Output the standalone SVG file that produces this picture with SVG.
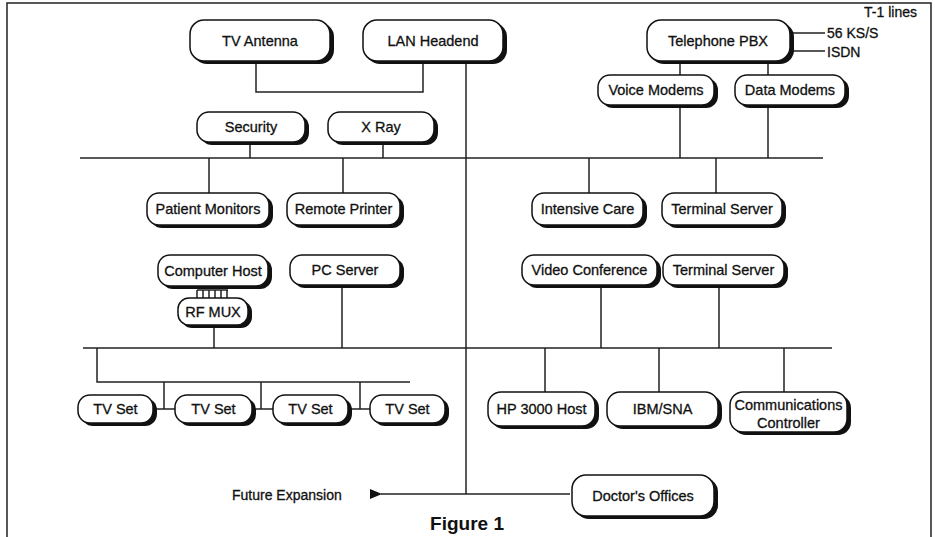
<svg xmlns="http://www.w3.org/2000/svg" width="935" height="537" viewBox="0 0 935 537">
<style>
  .sh { fill: #111; }
  .bx { fill: #fff; stroke: #111; stroke-width: 1.5; }
  .t { font-family: "Liberation Sans", Arial, sans-serif; font-size: 14.5px; fill: #111; stroke: #111; stroke-width: 0.3; text-anchor: middle; }
  .tl { font-family: "Liberation Sans", Arial, sans-serif; font-size: 14px; fill: #111; stroke: #111; stroke-width: 0.3; }
  .ln { fill: none; stroke: #222; stroke-width: 1.5; }
</style>
<defs>
  <marker id="arr" viewBox="0 0 12 10" refX="1" refY="5" markerWidth="13" markerHeight="10" markerUnits="userSpaceOnUse" orient="auto-start-reverse">
    <path d="M12,0 L0,5 L12,10 Z" fill="#111"/>
  </marker>
</defs>
<rect width="935" height="537" fill="#fff"/>
<g id="frame" class="ln">
  <path d="M7,537 V3 H931 V537"/>
</g>
<g id="connectors" class="ln">
  <path d="M256,61 V92 H423 V61"/>
  <path d="M466,61 V494"/>
  <path d="M570,494 H381" marker-end="url(#arr)"/>
  <path d="M80,158 H823"/>
  <path d="M250,142 V158 M383,142 V158"/>
  <path d="M680,61 V75 M680,105 V158 M768,61 V75 M768,105 V158"/>
  <path d="M209,158 V193 M343,158 V193 M589,158 V193 M716,158 V193"/>
  <path d="M793,33 H825 M793,51 H825"/>
  <path d="M197,290 H228 M197,290 V298 M203,290 V298 M209,290 V298 M215,290 V298 M221,290 V298 M227,290 V298"/>
  <path d="M342,285 V348 M214,325 V348 M601,285 V348 M719,285 V348"/>
  <path d="M83,348 H832"/>
  <path d="M97,348 V382 H410"/>
  <path d="M164,382 V409 M261,382 V409 M360,382 V409"/>
  <path d="M153,409 H175 M252,409 H273 M348,409 H370"/>
  <path d="M545,348 V392 M659,348 V392 M784,348 V392"/>
</g>
<g id="tv-antenna"><rect class="sh" x="193" y="23" width="141" height="41" rx="14"/><rect class="bx" x="190" y="20" width="140" height="41" rx="14"/><text class="t" x="260" y="46">TV Antenna</text></g>
<g id="lan-headend"><rect class="sh" x="366" y="23" width="141" height="41" rx="14"/><rect class="bx" x="363" y="20" width="140" height="41" rx="14"/><text class="t" x="433" y="46">LAN Headend</text></g>
<g id="telephone-pbx"><rect class="sh" x="650" y="23" width="144" height="41" rx="14"/><rect class="bx" x="647" y="20" width="143" height="41" rx="14"/><text class="t" x="718" y="46">Telephone PBX</text></g>
<g id="voice-modems"><rect class="sh" x="601" y="78" width="117" height="30" rx="12"/><rect class="bx" x="598" y="75" width="116" height="30" rx="12"/><text class="t" x="656" y="95">Voice Modems</text></g>
<g id="data-modems"><rect class="sh" x="738" y="78" width="111" height="30" rx="12"/><rect class="bx" x="735" y="75" width="110" height="30" rx="12"/><text class="t" x="790" y="95">Data Modems</text></g>
<g id="security"><rect class="sh" x="200" y="115" width="109" height="30" rx="12"/><rect class="bx" x="197" y="112" width="108" height="30" rx="12"/><text class="t" x="251" y="132">Security</text></g>
<g id="x-ray"><rect class="sh" x="331" y="115" width="107" height="30" rx="12"/><rect class="bx" x="328" y="112" width="106" height="30" rx="12"/><text class="t" x="381" y="132">X Ray</text></g>
<g id="patient-monitors"><rect class="sh" x="150" y="196" width="123" height="32" rx="12"/><rect class="bx" x="147" y="193" width="122" height="32" rx="12"/><text class="t" x="208" y="214">Patient Monitors</text></g>
<g id="remote-printer"><rect class="sh" x="290" y="196" width="114" height="32" rx="12"/><rect class="bx" x="287" y="193" width="113" height="32" rx="12"/><text class="t" x="343.5" y="214">Remote Printer</text></g>
<g id="intensive-care"><rect class="sh" x="535" y="196" width="112" height="32" rx="12"/><rect class="bx" x="532" y="193" width="111" height="32" rx="12"/><text class="t" x="587.5" y="214">Intensive Care</text></g>
<g id="terminal-server-1"><rect class="sh" x="665" y="196" width="121" height="32" rx="12"/><rect class="bx" x="662" y="193" width="120" height="32" rx="12"/><text class="t" x="722" y="214">Terminal Server</text></g>
<g id="computer-host"><rect class="sh" x="161" y="258" width="111" height="31" rx="12"/><rect class="bx" x="158" y="255" width="110" height="31" rx="12"/><text class="t" x="213" y="276">Computer Host</text></g>
<g id="pc-server"><rect class="sh" x="293" y="258" width="111" height="30" rx="12"/><rect class="bx" x="290" y="255" width="110" height="30" rx="12"/><text class="t" x="345" y="275">PC Server</text></g>
<g id="rf-mux"><rect class="sh" x="181" y="301" width="71" height="27" rx="11"/><rect class="bx" x="178" y="298" width="70" height="27" rx="11"/><text class="t" x="213" y="317">RF MUX</text></g>
<g id="video-conference"><rect class="sh" x="525" y="258" width="136" height="30" rx="12"/><rect class="bx" x="522" y="255" width="135" height="30" rx="12"/><text class="t" x="589.5" y="275">Video Conference</text></g>
<g id="terminal-server-2"><rect class="sh" x="666" y="258" width="122" height="30" rx="12"/><rect class="bx" x="663" y="255" width="121" height="30" rx="12"/><text class="t" x="723.5" y="275">Terminal Server</text></g>
<g id="tv-set-1"><rect class="sh" x="81" y="398" width="76" height="28" rx="12"/><rect class="bx" x="78" y="395" width="75" height="28" rx="12"/><text class="t" x="115.5" y="414">TV Set</text></g>
<g id="tv-set-2"><rect class="sh" x="178" y="398" width="78" height="28" rx="12"/><rect class="bx" x="175" y="395" width="77" height="28" rx="12"/><text class="t" x="213.5" y="414">TV Set</text></g>
<g id="tv-set-3"><rect class="sh" x="276" y="398" width="76" height="28" rx="12"/><rect class="bx" x="273" y="395" width="75" height="28" rx="12"/><text class="t" x="310.5" y="414">TV Set</text></g>
<g id="tv-set-4"><rect class="sh" x="373" y="398" width="76" height="28" rx="12"/><rect class="bx" x="370" y="395" width="75" height="28" rx="12"/><text class="t" x="407.5" y="414">TV Set</text></g>
<g id="hp-3000-host"><rect class="sh" x="491" y="395" width="108" height="34" rx="13"/><rect class="bx" x="488" y="392" width="107" height="34" rx="13"/><text class="t" x="541.5" y="414">HP 3000 Host</text></g>
<g id="ibm-sna"><rect class="sh" x="610" y="395" width="112" height="34" rx="13"/><rect class="bx" x="607" y="392" width="111" height="34" rx="13"/><text class="t" x="662.5" y="414">IBM/SNA</text></g>
<g id="communications-controller"><rect class="sh" x="733" y="395" width="118" height="40" rx="13"/><rect class="bx" x="730" y="392" width="117" height="40" rx="13"/><text class="t" x="788.5" y="410">Communications</text><text class="t" x="788.5" y="428">Controller</text></g>
<g id="doctors-offices"><rect class="sh" x="575" y="478" width="143" height="41" rx="14"/><rect class="bx" x="572" y="475" width="142" height="41" rx="14"/><text class="t" x="643" y="501">Doctor's Offices</text></g>
<g id="labels">
  <text class="tl" x="917" y="17" text-anchor="end" font-size="13">T-1 lines</text>
  <text class="tl" x="827" y="38">56 KS/S</text>
  <text class="tl" x="827" y="57">ISDN</text>
  <text class="tl" x="232" y="500">Future Expansion</text>
  <text x="467" y="530" text-anchor="middle" font-family="Liberation Sans, Arial, sans-serif" font-size="19" font-weight="bold" fill="#111">Figure 1</text>
</g>
</svg>
